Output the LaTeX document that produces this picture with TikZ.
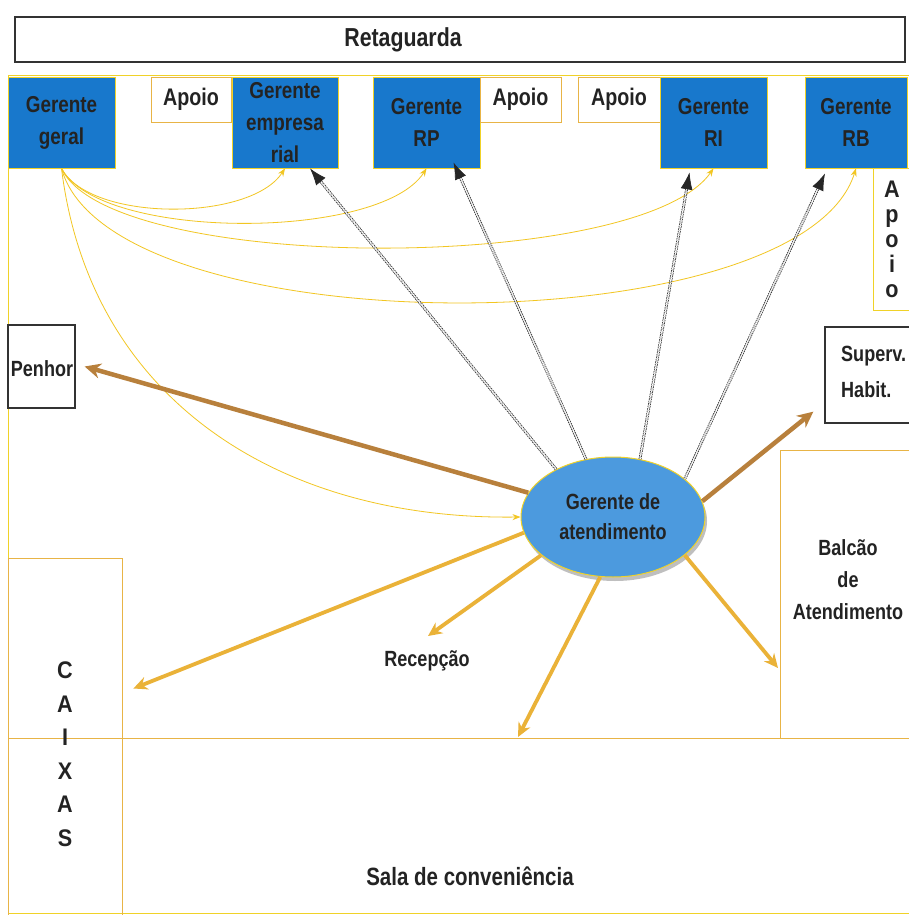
\documentclass[tikz,border=0pt]{standalone}
\usepackage{fontspec}
\setmainfont{Liberation Sans}
\newfontfamily\cf[FakeStretch=0.82]{Liberation Sans Bold}
\newfontfamily\cfb[FakeStretch=0.9]{Liberation Sans Bold}
\usetikzlibrary{shapes.geometric,arrows.meta}
\definecolor{bx}{RGB}{24,120,204}
\definecolor{el}{RGB}{76,154,222}
\definecolor{yl}{RGB}{240,210,40}
\definecolor{gold}{RGB}{234,178,56}
\definecolor{brn}{RGB}{184,128,60}
\definecolor{org}{RGB}{232,180,70}
\definecolor{txt}{RGB}{35,35,35}
\begin{document}
\begin{tikzpicture}[x=1pt,y=-1pt,
  gbox/.style={draw=yl, fill=bx, line width=0.8pt, inner sep=0pt, align=center,
    text=txt, font=\cf\fontsize{23}{32}\selectfont},
  abox/.style={draw=org, line width=0.7pt, fill=white, inner sep=0pt, text=txt,
    font=\cf\fontsize{24}{26}\selectfont},
  kbox/.style={draw=black!80, line width=1.3pt, inner sep=0pt},
  room/.style={draw=org, line width=0.8pt, inner sep=0pt},
  lbl/.style={text=txt, inner sep=0pt, align=center, font=\cf\fontsize{22}{32}\selectfont},
  yarr/.style={draw=yl!85!orange, line width=0.8pt, -{Stealth[length=8pt,width=6pt]}},
  garr/.style={draw=gold, line width=3.8pt, -{Stealth[length=14pt,width=13pt]}},
  barr/.style={draw=brn, line width=4.5pt, -{Stealth[length=16pt,width=15pt]}},
  darr/.style={draw=black!85, line width=0.7pt, double=white, double distance=1.4pt,
    dash pattern=on 1.6pt off 0.9pt, -{Latex[length=17pt,width=12pt,fill=black!85]}}
]
\useasboundingbox (0,0) rectangle (908,915);
\fill[white] (0,0) rectangle (908,915);

% walls
\draw[yl, line width=1pt] (8,76) -- (910,76);
\draw[yl, line width=1pt] (8,76) -- (8,913) -- (910,913);
\draw[org, line width=1pt] (8,738) -- (910,738);

% Retaguarda
\node[kbox, minimum width=890pt, minimum height=45pt, line width=1.6pt] (ret) at (460,39.5) {};
\node[lbl, font=\cf\fontsize{26}{28}\selectfont] (retT) at (403,40) {Retaguarda};

% top row
\node[gbox, minimum width=107pt, minimum height=91pt] (gg) at (61.5,122.5) {Gerente\\geral};
\node[abox, minimum width=80pt, minimum height=45pt] (ap1) at (191,99.5) {Apoio};
\node[gbox, minimum width=106pt, minimum height=91pt] (emp) at (285,122.5) {Gerente\\empresa\\rial};
\node[gbox, minimum width=107pt, minimum height=91pt] (rp) at (426.5,122.5) {Gerente\\RP};
\node[abox, minimum width=81pt, minimum height=45pt] (ap2) at (520.5,99.5) {Apoio};
\node[abox, minimum width=82pt, minimum height=45pt] (ap3) at (619,99.5) {Apoio};
\node[gbox, minimum width=107pt, minimum height=91pt] (ri) at (713.5,122.5) {Gerente\\RI};
\node[gbox, minimum width=102pt, minimum height=91pt] (rb) at (856,122.5) {Gerente\\RB};

% vertical Apoio
\node[room, draw=yl, minimum width=38pt, minimum height=142pt, align=center, text=txt,
  font=\cfb\fontsize{24}{25}\selectfont] (ap4) at (892,239) {A\\p\\o\\i\\o};

% Penhor, Superv
\node[kbox, minimum width=67pt, minimum height=83pt] (pen) at (41.5,366.5) {};
\node[lbl] (penT) at (42,369) {Penhor};
\node[kbox, minimum width=86pt, minimum height=96pt] (sup) at (868,375) {};
\node[lbl, align=left, anchor=west, font=\cf\fontsize{22}{36}\selectfont] (supT) at (841,372) {Superv.\\Habit.};

% Balcao
\node[room, minimum width=132pt, minimum height=288pt] (bal) at (846,594) {};
\node[lbl] (balT) at (848,580) {Balcão\\de\\Atendimento};

% Caixas
\node[room, minimum width=114pt, minimum height=359pt] (cx) at (65,737.5) {};
\node[lbl, font=\cfb\fontsize{24}{33.5}\selectfont] (cxT) at (65,754) {C\\A\\I\\X\\A\\S};

% texts
\node[lbl] (rec) at (427,661) {Recepção};
\node[lbl, font=\cf\fontsize{25}{28}\selectfont] (sala) at (470,876) {Sala de conveniência};

% Gerente de atendimento
\fill[black!25] (615,521) ellipse [x radius=92pt, y radius=60pt];
\node[ellipse, draw=yl, line width=1pt, fill=el, minimum width=184pt, minimum height=120pt,
  inner sep=0pt, text=txt, align=center, font=\cf\fontsize{22}{30}\selectfont] (ga) at (613,517)
  {Gerente de\\atendimento};

% named free ends
\coordinate (recTip) at (428,636);
\coordinate (salaTip) at (518,737);
\coordinate (balTip) at (778,668);

% curves from Gerente geral
\draw[yarr] (gg.south) .. controls (90,222) and (250,222) .. (emp.south);
\draw[yarr] (gg.south) .. controls (100,241) and (380,241) .. (rp.south);
\draw[yarr] (gg.south) .. controls (110,274) and (640,274) .. (ri.south);
\draw[yarr] (gg.south) .. controls (110,347) and (800,347) .. (rb.south);
\draw[yarr] (gg.south) .. controls (90,400) and (280,520) .. (ga.180);

% dotted arrows
\draw[darr] (ga.140) -- ([xshift=25pt]emp.south);
\draw[darr] (ga.115) -- ([shift={(27pt,6pt)}]rp.south);
\draw[darr] (ga.65) -- ([shift={(-24pt,-4pt)}]ri.south);
\draw[darr] (ga.28) -- ([shift={(-31pt,-5pt)}]rb.south);

% brown arrows
\draw[barr] (ga.164) -- ([xshift=9pt]pen.east);
\draw[barr] (ga.10) -- ([shift={(-11pt,12pt)}]sup.south west);

% gold arrows
\draw[garr] (ga.190) -- ([shift={(11pt,49pt)}]cx.east);
\draw[garr] (ga.208) -- (recTip);
\draw[garr] (ga.258) -- (salaTip);
\draw[garr] (ga.332) -- (balTip);
\end{tikzpicture}
\end{document}
